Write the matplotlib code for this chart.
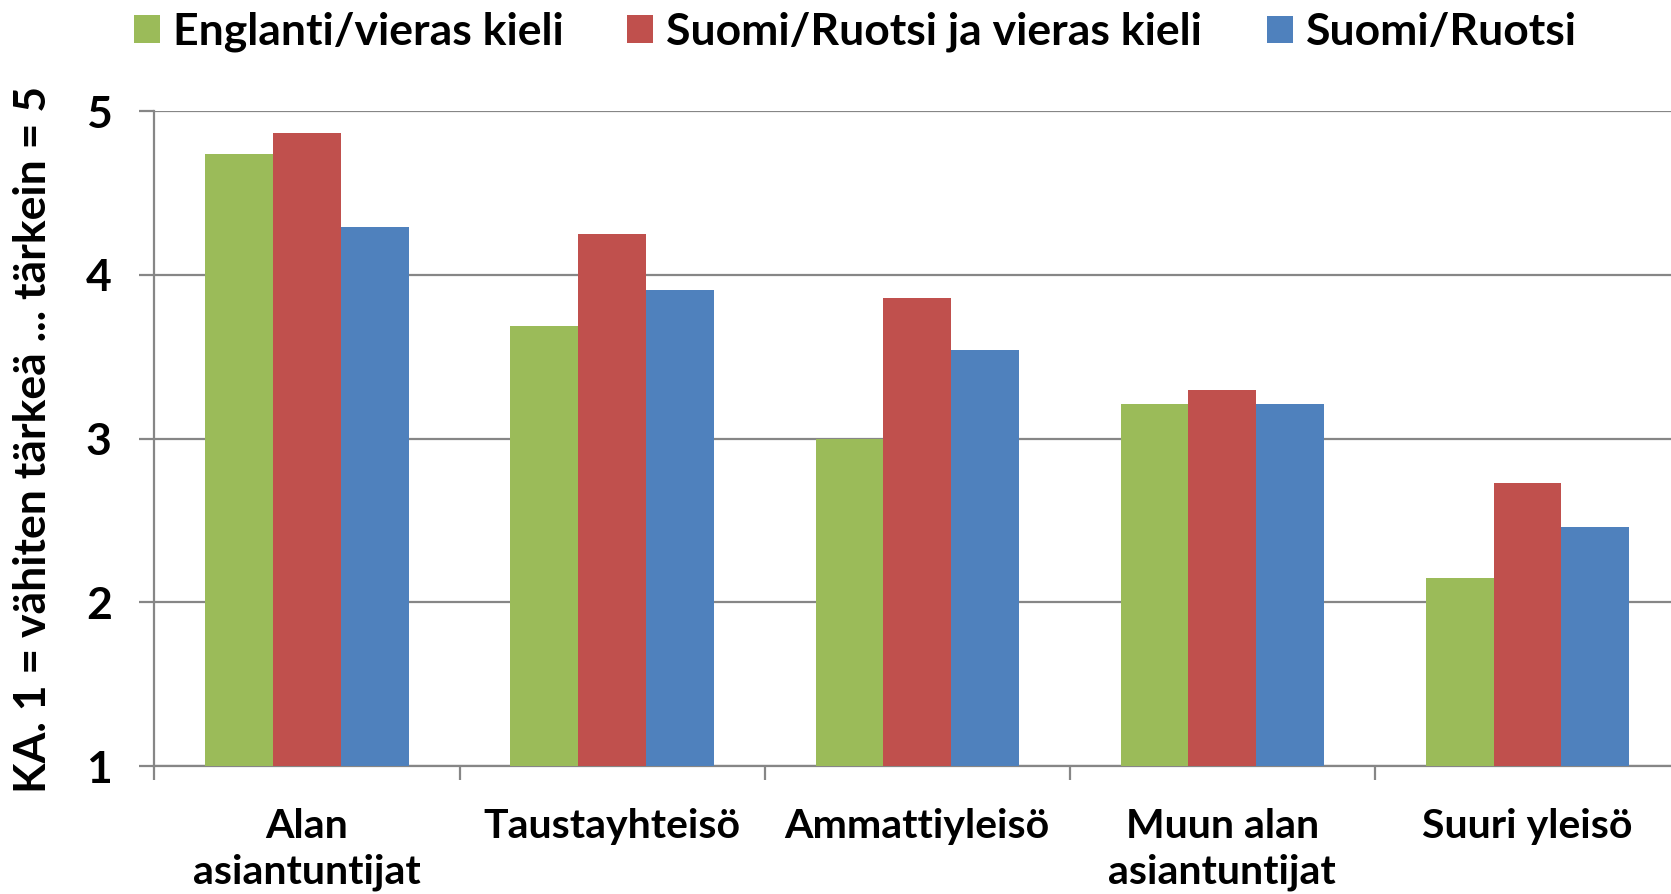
import numpy as np
import matplotlib
matplotlib.use("Agg")
import matplotlib.pyplot as plt
from matplotlib.patches import Patch

# data
categories = ["Alan\nasiantuntijat", "Taustayhteisö", "Ammattiyleisö",
              "Muun alan\nasiantuntijat", "Suuri yleisö"]
series_names = ["Englanti/vieras kieli", "Suomi/Ruotsi ja vieras kieli", "Suomi/Ruotsi"]
englanti = [4.74, 3.69, 3.00, 3.21, 2.15]
suomi_ja_vieras = [4.87, 4.25, 3.86, 3.30, 2.73]
suomi = [4.29, 3.91, 3.54, 3.21, 2.46]
colors = ["#9BBB59", "#C0504D", "#4F81BD"]
yticks = [1, 2, 3, 4, 5]
ylabel = "KA. 1 = vähiten tärkeä ... tärkein = 5"

plt.rcParams['font.family'] = ['Lato', 'DejaVu Sans']
plt.rcParams['font.weight'] = 'bold'
FS = 32
FS_X = 29.5
GRID = "#868686"

fig = plt.figure(figsize=(16.71, 8.94), dpi=100)
ax = fig.add_axes([0.0924, 0.1429, 0.913, 0.7327])

x = np.arange(len(categories))
w = 0.222
for k, vals in enumerate([englanti, suomi_ja_vieras, suomi]):
    ax.bar(x + (k - 1) * w, vals, width=w, color=colors[k], edgecolor='none',
           zorder=3, label=series_names[k])

ax.set_xlim(-0.5, len(categories) - 0.5)
ax.set_ylim(1, 5)
ax.set_yticks(yticks)
ax.set_yticklabels([str(t) for t in yticks], fontsize=FS, fontweight='bold')
ax.yaxis.grid(True, color=GRID, linewidth=1.6, zorder=0)

ax.set_xticks(x)
ax.set_xticklabels(categories, fontsize=FS_X, fontweight='bold', linespacing=1.3)
ax.set_xticks(np.arange(len(categories) + 1) - 0.5, minor=True)
ax.tick_params(axis='x', which='major', length=0, pad=30)
ax.tick_params(axis='x', which='minor', length=10, width=1.6, color=GRID, direction='out')
ax.tick_params(axis='y', length=10.7, width=1.6, color=GRID, direction='out', pad=20)

for s in ['top', 'right']:
    ax.spines[s].set_visible(False)
for s in ['left', 'bottom']:
    ax.spines[s].set_color(GRID)
    ax.spines[s].set_linewidth(1.6)

# y axis title, centred on the plot area
fig.text(33 / 1671, 0.509, ylabel, rotation=90, ha='center', va='center',
         fontsize=FS, fontweight='bold')

# legend entries placed one by one along the top
legend_x = [134 / 1671, 627 / 1671, 1267 / 1671]
for k in range(3):
    fig.legend([Patch(facecolor=colors[k], edgecolor='none')], [series_names[k]],
               loc='center left', bbox_to_anchor=(legend_x[k], 0.964),
               frameon=False, handlelength=0.58, handleheight=0.58,
               handletextpad=0.3, borderpad=0, borderaxespad=0,
               prop={'weight': 'bold', 'size': FS})

fig.savefig("out.png", dpi=100)
